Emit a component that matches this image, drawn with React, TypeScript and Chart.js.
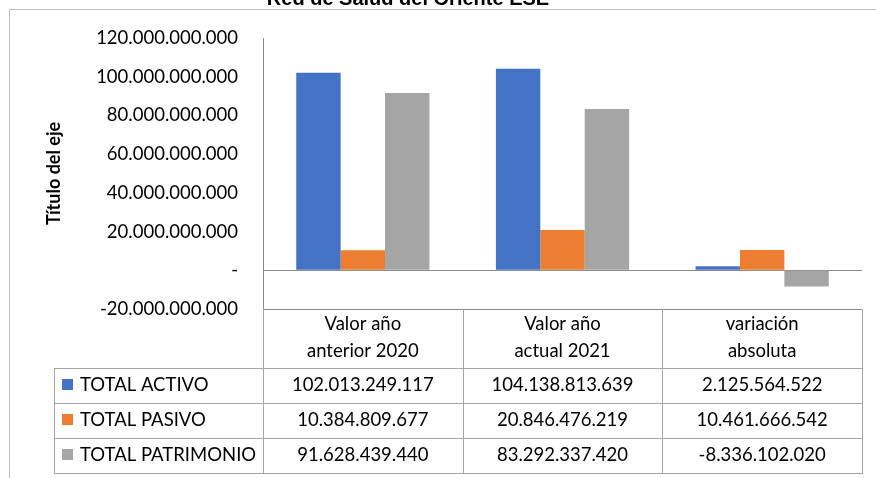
import React, { useEffect, useRef } from "react";
import { Chart, registerables } from "chart.js";

Chart.register(...registerables);

const chartTitle = "Red de Salud del Oriente ESE";
const axisTitle = "Título del eje";
const categories: string[][] = [
  ["Valor año", "anterior 2020"],
  ["Valor año", "actual 2021"],
  ["variación", "absoluta"],
];
const seriesNames = ["TOTAL ACTIVO", "TOTAL PASIVO", "TOTAL PATRIMONIO"];
const seriesColors = ["#4472C4", "#ED7D31", "#A5A5A5"];
const totalActivo = [102013249117, 104138813639, 2125564522];
const totalPasivo = [10384809677, 20846476219, 10461666542];
const totalPatrimonio = [91628439440, 83292337420, -8336102020];
const yMin = -20000000000;
const yMax = 120000000000;
const yStep = 20000000000;

const seriesValues = [totalActivo, totalPasivo, totalPatrimonio];

function fmt(v: number): string {
  if (v === 0) return "-";
  const s = Math.abs(Math.round(v))
    .toString()
    .replace(/\B(?=(\d{3})+(?!\d))/g, ".");
  return (v < 0 ? "-" : "") + s;
}

const FONT = "Lato, 'Open Sans', sans-serif";
const LINE = "#a6a6a6";
const AXIS = "#8c8c8c";
const TXT = 18.5;

const extrasPlugin = {
  id: "excelExtras",
  afterDraw(chart: any) {
    const ctx = chart.ctx as CanvasRenderingContext2D;
    const x = chart.scales.x;
    const y = chart.scales.y;
    const area = chart.chartArea;
    ctx.save();

    // outer chart frame
    ctx.strokeStyle = "#bfbfbf";
    ctx.lineWidth = 1;
    ctx.beginPath();
    ctx.moveTo(9.5, 478);
    ctx.lineTo(9.5, 9.5);
    ctx.lineTo(876, 9.5);
    ctx.stroke();

    // title (clipped by the top of the picture)
    ctx.fillStyle = "#000";
    ctx.font = "bold 20px 'Liberation Sans', Arial, sans-serif";
    ctx.textAlign = "center";
    ctx.textBaseline = "alphabetic";
    ctx.fillText(chartTitle, 408, 5);

    // data table
    const n = categories.length;
    const catW = (area.right - area.left) / n;
    const tableTop = Math.round(y.getPixelForValue(yMin));
    const headerBottom = 368;
    const rowH = 35;
    const tableLeft = 54;
    const rowsBottom = headerBottom + rowH * seriesNames.length;

    ctx.strokeStyle = LINE;
    ctx.lineWidth = 1;
    ctx.beginPath();
    ctx.moveTo(Math.round(area.left) + 0.5, tableTop);
    ctx.lineTo(Math.round(area.left) + 0.5, rowsBottom);
    for (let i = 0; i < n; i++) {
      const cx = Math.round(x.getPixelForValue(i) + catW / 2) + 0.5;
      ctx.moveTo(cx, tableTop);
      ctx.lineTo(cx, rowsBottom + 0.5);
    }
    for (let r = 0; r <= seriesNames.length; r++) {
      const ry = headerBottom + r * rowH + 0.5;
      ctx.moveTo(tableLeft, ry);
      ctx.lineTo(Math.round(area.right) + 1, ry);
    }
    ctx.moveTo(tableLeft + 0.5, headerBottom);
    ctx.lineTo(tableLeft + 0.5, rowsBottom + 0.5);
    ctx.stroke();

    // header text
    ctx.fillStyle = "#000";
    ctx.font = `${TXT}px ${FONT}`;
    ctx.textAlign = "center";
    ctx.textBaseline = "middle";
    for (let i = 0; i < n; i++) {
      const cx = x.getPixelForValue(i);
      ctx.fillText(categories[i][0], cx, 324);
      ctx.fillText(categories[i][1], cx, 351);
    }

    // rows
    for (let r = 0; r < seriesNames.length; r++) {
      const cy = headerBottom + r * rowH + rowH / 2;
      ctx.fillStyle = seriesColors[r];
      ctx.fillRect(62, Math.round(cy) - 7, 11, 11);
      ctx.fillStyle = "#000";
      ctx.textAlign = "left";
      ctx.fillText(seriesNames[r], 80, cy);
      ctx.textAlign = "center";
      for (let i = 0; i < n; i++) {
        ctx.fillText(fmt(seriesValues[r][i]), x.getPixelForValue(i), cy);
      }
    }
    ctx.restore();
  },
};

export default function App() {
  const ref = useRef<HTMLCanvasElement | null>(null);
  useEffect(() => {
    if (!ref.current) return;
    const chart = new Chart(ref.current, {
      type: "bar",
      data: {
        labels: categories.map((c) => c.join(" ")),
        datasets: seriesNames.map((name, i) => ({
          label: name,
          data: seriesValues[i],
          backgroundColor: seriesColors[i],
          borderWidth: 0,
          categoryPercentage: 0.667,
          barPercentage: 1,
        })),
      },
      options: {
        animation: false,
        responsive: false,
        devicePixelRatio: 1,
        layout: { padding: { left: 43, right: 14, top: 38, bottom: 169 } },
        plugins: {
          legend: { display: false },
          title: { display: false },
          tooltip: { enabled: false },
        },
        scales: {
          x: { display: false },
          y: {
            min: yMin,
            max: yMax,
            afterFit: (scale: any) => {
              scale.width = 263 - 43;
            },
            ticks: {
              stepSize: yStep,
              padding: 25,
              color: "#000",
              font: { family: FONT, size: TXT },
              callback: (v: any) => fmt(Number(v)),
            },
            grid: {
              drawTicks: false,
              color: (c: any) =>
                c.tick && (c.tick.value === 0 || c.tick.value === yMin) ? AXIS : "rgba(0,0,0,0)",
            },
            border: { display: true, color: AXIS },
            title: {
              display: true,
              text: axisTitle,
              color: "#000",
              font: { family: FONT, size: 18, weight: "bold" },
              padding: { top: 0, bottom: 0 },
            },
          },
        },
      },
      plugins: [extrasPlugin],
    });
    return () => chart.destroy();
  }, []);
  return (
    <div style={{ position: "fixed", left: 0, top: 0, width: 876, height: 478, background: "#fff" }}>
      <canvas ref={ref} width={876} height={478} style={{ display: "block" }} />
    </div>
  );
}
